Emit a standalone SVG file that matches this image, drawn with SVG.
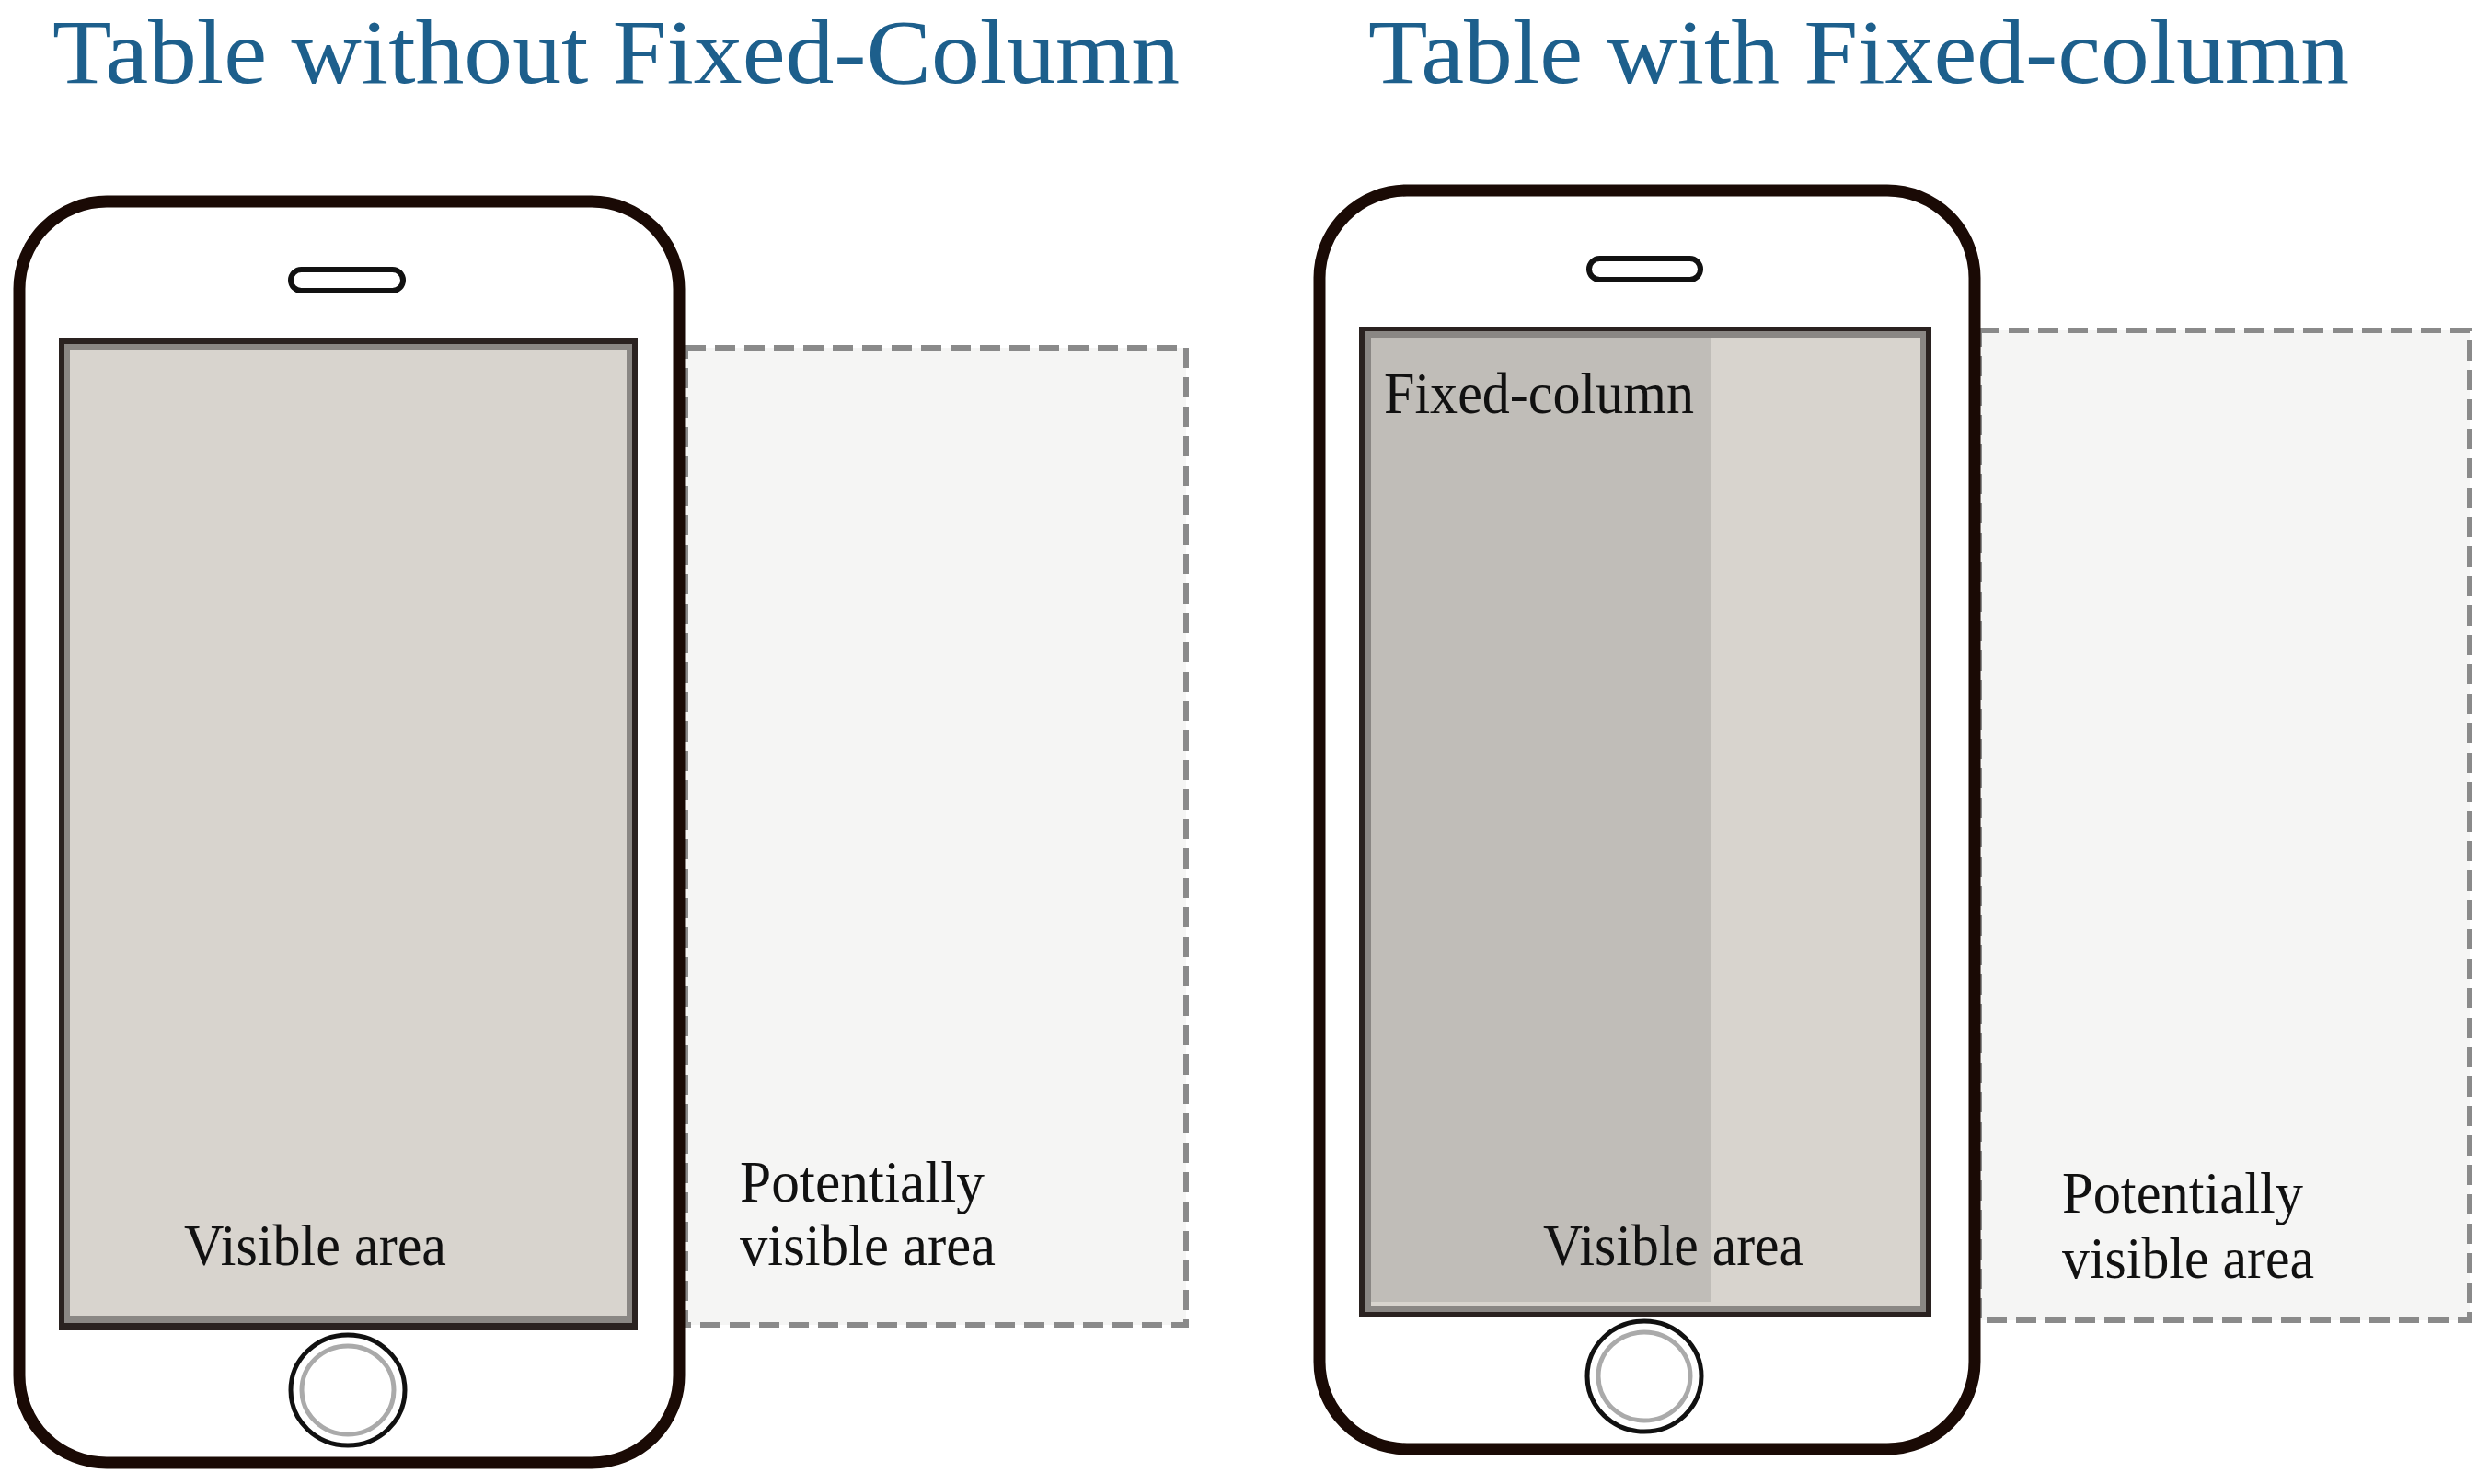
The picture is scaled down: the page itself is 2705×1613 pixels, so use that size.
<svg xmlns="http://www.w3.org/2000/svg" width="2705" height="1613" viewBox="0 0 2705 1613">
<style>
.title{font-family:"Liberation Serif",serif;font-size:100px;fill:#1d5f8c}
.lbl{font-family:"Liberation Serif",serif;font-size:64px;fill:#111}
.body{fill:#fff;stroke:#1a0a05;stroke-width:13}
.spk{fill:#fff;stroke:#111;stroke-width:6}
.scr{fill:#2a2220}
.dash{fill:#f5f5f4;stroke:#8a8a8a;stroke-width:6;stroke-dasharray:22 10}
.home{fill:#fff;stroke:#111;stroke-width:5}
.homein{fill:#fff;stroke:#aaa;stroke-width:5}
</style>
<rect width="2705" height="1613" fill="#fff"/>
<text class="title" x="57" y="90" textLength="1225" lengthAdjust="spacingAndGlyphs">Table without Fixed-Column</text>
<text class="title" x="1487" y="90" textLength="1066" lengthAdjust="spacingAndGlyphs">Table with Fixed-column</text>
<g id="left-potential">
<rect class="dash" x="745" y="378" width="544" height="1062"/>
<text class="lbl" x="804" y="1306" textLength="266" lengthAdjust="spacingAndGlyphs">Potentially</text>
<text class="lbl" x="804" y="1375" textLength="278" lengthAdjust="spacingAndGlyphs">visible area</text>
</g>
<g id="left-phone">
<rect class="body" x="21" y="219" width="717" height="1371" rx="95"/>
<rect class="spk" x="316" y="293" width="122" height="23" rx="11.5"/>
<rect class="scr" x="64" y="367" width="629" height="1079"/>
<rect x="70" y="374" width="617" height="1064" fill="#8a8784"/>
<rect x="76" y="380" width="605" height="1050" fill="#d8d4ce"/>
<text class="lbl" x="200" y="1375" textLength="285" lengthAdjust="spacingAndGlyphs">Visible area</text>
<ellipse class="home" cx="378" cy="1511" rx="62" ry="60"/>
<ellipse class="homein" cx="378" cy="1511" rx="50" ry="48"/>
</g>
<g id="right-potential">
<rect class="dash" x="2151" y="359" width="533" height="1076"/>
<text class="lbl" x="2241" y="1318" textLength="262" lengthAdjust="spacingAndGlyphs">Potentially</text>
<text class="lbl" x="2241" y="1389" textLength="274" lengthAdjust="spacingAndGlyphs">visible area</text>
</g>
<g id="right-phone">
<rect class="body" x="1434" y="207" width="712" height="1368" rx="95"/>
<rect class="spk" x="1727" y="281" width="121" height="23" rx="11.5"/>
<rect class="scr" x="1477" y="355" width="622" height="1077"/>
<rect x="1483" y="360" width="610" height="1066" fill="#8a8784"/>
<rect x="1490" y="367" width="597" height="1053" fill="#d8d4ce"/>
<rect x="1490" y="367" width="370" height="1048" fill="#c0bdb8"/>
<text class="lbl" x="1504" y="449" textLength="337" lengthAdjust="spacingAndGlyphs">Fixed-column</text>
<text class="lbl" x="1677" y="1375" textLength="283" lengthAdjust="spacingAndGlyphs">Visible area</text>
<ellipse class="home" cx="1787" cy="1496" rx="62" ry="60"/>
<ellipse class="homein" cx="1787" cy="1496" rx="50" ry="48"/>
</g>
<g id="connectors"/>
</svg>
